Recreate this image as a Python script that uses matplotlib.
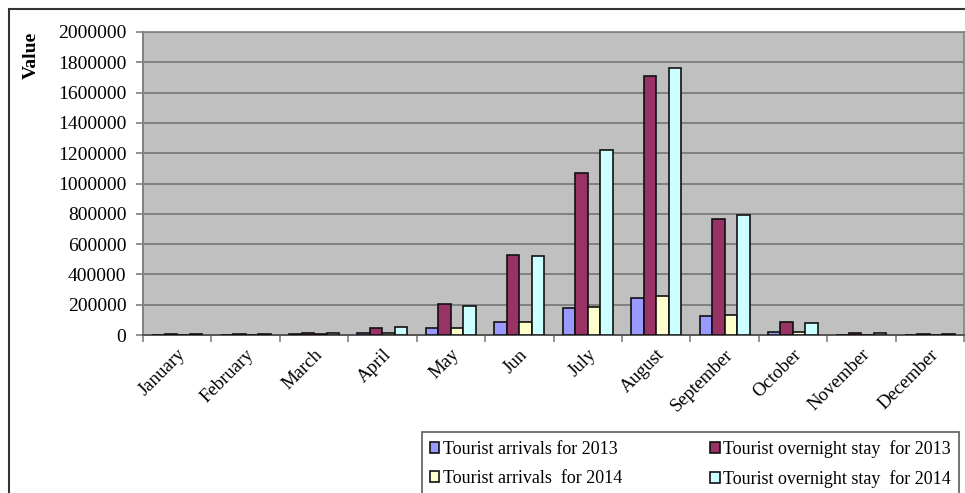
import numpy as np
import matplotlib.pyplot as plt
from matplotlib.patches import Rectangle

months = ["January", "February", "March", "April", "May", "Jun", "July",
          "August", "September", "October", "November", "December"]
arrivals_2013 = [3000, 2000, 5000, 12000, 46000, 86000, 178000, 244000, 125000, 22000, 3000, 3000]
overnight_2013 = [8000, 5000, 11000, 48000, 205000, 528000, 1069000, 1710000, 766000, 86000, 10000, 9000]
arrivals_2014 = [3000, 2000, 5000, 15000, 46000, 86000, 185000, 257000, 132000, 20000, 3000, 3000]
overnight_2014 = [9000, 5000, 12000, 50000, 191000, 521000, 1221000, 1762000, 792000, 76000, 10000, 9000]

series = [
    ("Tourist arrivals for 2013", arrivals_2013, "#9999FF"),
    ("Tourist overnight stay  for 2013", overnight_2013, "#993366"),
    ("Tourist arrivals  for 2014", arrivals_2014, "#FFFFCC"),
    ("Tourist overnight stay  for 2014", overnight_2014, "#CCFFFF"),
]

plt.rcParams["font.family"] = ["Liberation Serif", "DejaVu Serif"]

fig = plt.figure(figsize=(9.65, 4.93), dpi=100)
ax = fig.add_axes([143 / 965, 1 - 335 / 493, 821 / 965, 303 / 493])
ax.set_facecolor("#C0C0C0")

x = np.arange(len(months))
w = 0.183
bars = []
for i, (name, vals, col) in enumerate(series):
    b = ax.bar(x + (i - 1.5) * w, vals, w, color=col, edgecolor="#111111",
               linewidth=1.2, label=name, zorder=3)
    bars.append(b)

ax.set_xlim(-0.5, len(months) - 0.5)
ax.set_ylim(0, 2000000)
ax.set_yticks(np.arange(0, 2000001, 200000))
ax.set_yticklabels([str(v) for v in range(0, 2000001, 200000)], fontsize=14)
ax.yaxis.grid(True, color="#808080", linewidth=1.4, zorder=0)
ax.set_axisbelow(True)

ax.set_xticks(x)
ax.set_xticklabels(months, rotation=45, ha="right", va="top",
                   rotation_mode="anchor", fontsize=13.5)
ax.set_xticks(np.arange(-0.5, len(months)), minor=True)
ax.tick_params(axis="x", which="major", length=0, pad=8)
ax.tick_params(axis="x", which="minor", length=5, color="#808080", width=1.2)
ax.tick_params(axis="y", length=5, color="#808080", width=1.2, pad=7)

for side in ["top", "right"]:
    ax.spines[side].set_color("#808080")
    ax.spines[side].set_linewidth(1.2)
ax.spines["left"].set_color("#808080")
ax.spines["left"].set_linewidth(1.4)
ax.spines["bottom"].set_color("#555555")
ax.spines["bottom"].set_linewidth(1.4)

fig.text(31 / 965, 1 - 55 / 493, "Value", rotation=90, ha="center", va="center",
         fontsize=14, fontweight="bold")

# chart frame running off the canvas
fig.patches.append(Rectangle((9 / 965, -0.1), 1.1, 1 - 9 / 493 + 0.1,
                             transform=fig.transFigure, fill=False,
                             edgecolor="#333333", linewidth=1.5))

handles = [bars[0], bars[2], bars[1], bars[3]]
labels = [series[0][0], series[2][0], series[1][0], series[3][0]]
leg = fig.legend(handles, labels, ncol=2, loc="upper left",
                 bbox_to_anchor=(422 / 965, 1 - 432 / 493),
                 fontsize=13, frameon=True, fancybox=False,
                 edgecolor="#333333", handlelength=0.5, handleheight=0.55,
                 handletextpad=0.2, columnspacing=4.9, labelspacing=0.65,
                 borderpad=0.45, borderaxespad=0)
leg.get_frame().set_linewidth(1.2)

fig.savefig("out.png", dpi=100)
